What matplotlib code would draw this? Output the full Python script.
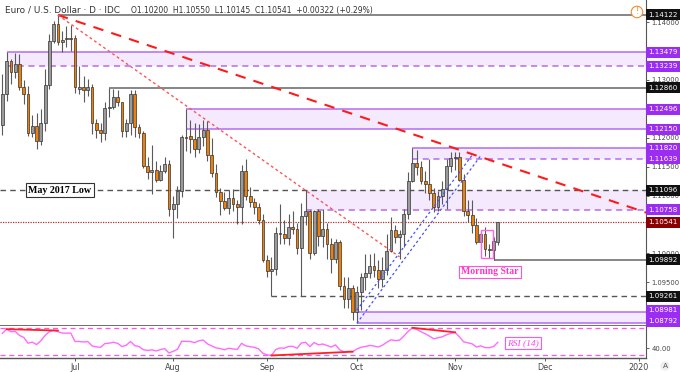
import numpy as np
import pandas as pd
import matplotlib
matplotlib.use("Agg")
import matplotlib.pyplot as plt
from matplotlib.patches import Rectangle
import matplotlib.transforms as mtrans

# ---------------- data ----------------
start_date = "2019-06-06"
end_axis_date = "2020-01-03"
opens = [1.1222, 1.1276, 1.1332, 1.1313, 1.1327, 1.1288, 1.1275, 1.1209, 1.1221, 1.1194,
         1.1226, 1.1292, 1.1368, 1.1397, 1.1366, 1.1373, 1.1370, 1.1373, 1.1285, 1.1287,
         1.1283, 1.1287, 1.1226, 1.1214, 1.1208, 1.1251, 1.1254, 1.1271, 1.1261, 1.1211,
         1.1225, 1.1276, 1.1219, 1.1208, 1.1151, 1.1140, 1.1145, 1.1127, 1.1143, 1.1154,
         1.1077, 1.1086, 1.1108, 1.1202, 1.1203, 1.1197, 1.1180, 1.1202, 1.1214, 1.1171,
         1.1139, 1.1106, 1.1091, 1.1078, 1.1096, 1.1086, 1.1080, 1.1143, 1.1100, 1.1089,
         1.1080, 1.1058, 1.0989, 1.0970, 1.0973, 1.1035, 1.1034, 1.1027, 1.1045, 1.1043,
         1.1010, 1.1065, 1.1073, 1.1000, 1.1073, 1.1031, 1.1042, 1.1017, 1.0991, 1.1020,
         1.0943, 1.0921, 1.0940, 1.0899, 1.0934, 1.0960, 1.0966, 1.0978, 1.0971, 1.0955,
         1.0971, 1.1005, 1.1040, 1.1029, 1.1033, 1.1068, 1.1125, 1.1157, 1.1150, 1.1126,
         1.1120, 1.1105, 1.1081, 1.1099, 1.1111, 1.1152, 1.1165, 1.1167, 1.1127, 1.1074,
         1.1066, 1.1050, 1.1019, 1.1034, 1.1008, 1.1006, 1.1020]
highs = [1.1310, 1.1348, 1.1336, 1.1347, 1.1345, 1.1300, 1.1290, 1.1240, 1.1242, 1.1250,
         1.1318, 1.1380, 1.1402, 1.14122, 1.1385, 1.1393, 1.1395, 1.1378, 1.1324, 1.1307,
         1.1302, 1.1293, 1.1232, 1.1226, 1.1262, 1.1286, 1.1285, 1.1282, 1.1262, 1.1233,
         1.1282, 1.1283, 1.1223, 1.1212, 1.1166, 1.1188, 1.1159, 1.1153, 1.1167, 1.1162,
         1.1099, 1.1116, 1.1204, 1.12496, 1.1230, 1.1226, 1.1224, 1.1230, 1.1229, 1.1200,
         1.1154, 1.1113, 1.1106, 1.1109, 1.1112, 1.1093, 1.1153, 1.1164, 1.1115, 1.1095,
         1.1087, 1.1068, 1.0998, 1.0994, 1.1045, 1.1085, 1.1057, 1.1068, 1.1073, 1.1053,
         1.1087, 1.11096, 1.1075, 1.1075, 1.1076, 1.1076, 1.1053, 1.1026, 1.1025, 1.1024,
         1.0960, 1.0959, 1.0946, 1.0943, 1.0966, 1.0999, 1.0999, 1.1000, 1.0988, 1.0994,
         1.1033, 1.1063, 1.1050, 1.1040, 1.1077, 1.1140, 1.1182, 1.1179, 1.1159, 1.1143,
         1.1163, 1.1113, 1.1108, 1.1125, 1.1164, 1.1175, 1.1176, 1.1176, 1.1138, 1.1093,
         1.1092, 1.1062, 1.1037, 1.1045, 1.1017, 1.1029, 1.1055]
lows = [1.1205, 1.1264, 1.1293, 1.1304, 1.1282, 1.1259, 1.1203, 1.1201, 1.1181, 1.1187,
        1.1212, 1.1284, 1.1364, 1.1360, 1.1349, 1.1356, 1.1350, 1.1277, 1.1276, 1.1262,
        1.1272, 1.1207, 1.1200, 1.1193, 1.1196, 1.1236, 1.1250, 1.1255, 1.1201, 1.1201,
        1.1205, 1.1201, 1.1199, 1.1148, 1.1128, 1.1102, 1.1124, 1.1125, 1.1139, 1.1065,
        1.1027, 1.1061, 1.1098, 1.1177, 1.1174, 1.1167, 1.1174, 1.1185, 1.1159, 1.1133,
        1.1098, 1.1066, 1.1075, 1.1068, 1.1073, 1.1051, 1.1051, 1.1092, 1.1080, 1.1068,
        1.1051, 1.0985, 1.0960, 1.0926, 1.0963, 1.1016, 1.1016, 1.1014, 1.1033, 1.0999,
        1.0927, 1.1050, 1.0990, 1.0998, 1.1013, 1.1012, 1.0991, 1.0966, 1.0983, 1.0936,
        1.0905, 1.0905, 1.0885, 1.08792, 1.0903, 1.0937, 1.0958, 1.0960, 1.0940, 1.0942,
        1.0963, 1.1002, 1.1018, 1.0991, 1.1011, 1.1059, 1.1123, 1.1136, 1.1120, 1.1105,
        1.1093, 1.1072, 1.1073, 1.1085, 1.1076, 1.1141, 1.1144, 1.1125, 1.1064, 1.1055,
        1.1036, 1.1016, 1.1011, 1.0996, 1.0993, 1.09892, 1.10145]
closes = [1.1276, 1.1332, 1.1313, 1.1327, 1.1288, 1.1275, 1.1209, 1.1221, 1.1194, 1.1226,
          1.1292, 1.1368, 1.1397, 1.1366, 1.1369, 1.1370, 1.1373, 1.1287, 1.1287, 1.1283,
          1.1287, 1.1226, 1.1214, 1.1208, 1.1251, 1.1254, 1.1271, 1.1261, 1.1211, 1.1225,
          1.1276, 1.1219, 1.1208, 1.1151, 1.1140, 1.1145, 1.1127, 1.1143, 1.1154, 1.1077,
          1.1086, 1.1108, 1.1202, 1.1199, 1.1197, 1.1180, 1.1202, 1.1214, 1.1171, 1.1139,
          1.1106, 1.1091, 1.1078, 1.1096, 1.1086, 1.1080, 1.1143, 1.1100, 1.1089, 1.1080,
          1.1058, 1.0989, 1.0970, 1.0973, 1.1035, 1.1034, 1.1027, 1.1045, 1.1043, 1.1010,
          1.1065, 1.1073, 1.1000, 1.1073, 1.1031, 1.1042, 1.1017, 1.0991, 1.1020, 1.0943,
          1.0921, 1.0940, 1.0899, 1.0934, 1.0960, 1.0966, 1.0978, 1.0971, 1.0955, 1.0971,
          1.1005, 1.1040, 1.1029, 1.1033, 1.1068, 1.1125, 1.1157, 1.1150, 1.1126, 1.1120,
          1.1105, 1.1081, 1.1099, 1.1111, 1.1152, 1.1165, 1.1167, 1.1127, 1.1074, 1.1066,
          1.1050, 1.1019, 1.1034, 1.1008, 1.1006, 1.1021, 1.10541]
rsi_values = [62.0, 68.3, 64.5, 65.0, 59.0, 56.0, 47.5, 49.0, 45.5, 51.0,
              59.0, 64.5, 66.6, 64.5, 62.5, 62.3, 62.5, 50.0, 50.0, 49.3,
              49.8, 43.5, 42.0, 41.4, 47.0, 47.5, 48.8, 47.3, 42.5, 44.5,
              50.0, 43.8, 42.6, 37.8, 36.8, 37.6, 36.0, 38.0, 39.5, 33.0,
              35.5, 38.5, 50.5, 50.2, 50.0, 48.3, 51.0, 52.2, 46.5, 43.5,
              40.5, 39.5, 37.8, 40.0, 39.0, 38.3, 47.3, 43.5, 42.3, 41.3,
              39.0, 32.5, 30.2, 29.5, 38.0, 40.5, 40.0, 42.6, 42.8, 40.0,
              47.8, 48.8, 42.3, 48.5, 45.0, 46.3, 44.0, 41.8, 45.0, 37.6,
              34.6, 35.5, 34.9, 38.9, 41.5, 42.6, 44.2, 43.3, 41.8, 44.5,
              48.8, 52.5, 51.3, 52.0, 58.0, 65.0, 70.0, 68.0, 64.5, 61.5,
              58.0, 54.0, 55.5, 57.0, 60.0, 62.0, 63.5, 57.0, 49.5, 48.0,
              46.5, 41.8, 43.5, 41.0, 40.8, 42.5, 48.8]

# horizontal levels (price, start date or None = full width)
gray_solid_levels = [1.14122, 1.12860, 1.09892]
gray_solid_starts = ["2019-06-25", "2019-07-11", "2019-11-14"]
gray_dashed_levels = [1.11096, 1.09261]
gray_dashed_starts = [None, "2019-09-03"]
close_level = 1.10541
# purple zones
zone_tops = [1.13479, 1.12496, 1.11820, 1.11096, 1.08981]
zone_bottoms = [1.13239, 1.12150, 1.11639, 1.10758, 1.08792]
zone_starts = ["2019-06-07", "2019-08-06", "2019-10-18", "2019-09-13", "2019-10-01"]
zone_top_dashed = [False, False, False, None, False]
zone_bottom_dashed = [True, False, True, True, False]

# trend lines (date, price)
trend_major_dates = ["2019-06-25", "2020-01-03"]
trend_major_prices = [1.14122, 1.1070]
trend_minor_dates = ["2019-06-25", "2019-10-15"]
trend_minor_prices = [1.14122, 1.0994]
channel_a_dates = ["2019-10-01", "2019-11-07"]
channel_a_prices = [1.0902, 1.1170]
channel_b_dates = ["2019-10-01", "2019-11-11"]
channel_b_prices = [1.08792, 1.1169]

rsi_div1_dates = ["2019-06-07", "2019-06-25"]
rsi_div1_vals = [68.3, 66.2]
rsi_div2_dates = ["2019-09-03", "2019-09-30"]
rsi_div2_vals = [29.3, 34.9]
rsi_div3_dates = ["2019-10-18", "2019-11-01"]
rsi_div3_vals = [70.3, 63.6]

month_labels = ["Jul", "Aug", "Sep", "Oct", "Nov", "Dec", "2020"]
month_dates = ["2019-07-01", "2019-08-01", "2019-09-02", "2019-10-01", "2019-11-01", "2019-12-02", "2020-01-01"]

label_prices = [1.14122, 1.13479, 1.13239, 1.12860, 1.12496, 1.12150, 1.11820, 1.11639,
                1.11096, 1.10758, 1.10541, 1.09892, 1.09261, 1.08981, 1.08792]
label_kind = ["k", "p", "p", "k", "p", "p", "p", "p", "k", "p", "r", "k", "k", "p", "p"]

# ---------------- figure ----------------
W, H = 680, 372
fig = plt.figure(figsize=(W / 100, H / 100), dpi=100)
fig.patch.set_facecolor("white")

def fy(py):
    return 1 - py / H

AX_R = 646
ax = fig.add_axes([0, fy(326), AX_R / W, 326 / H])
ax2 = fig.add_axes([0, fy(358), AX_R / W, 32 / H])

dates_all = pd.bdate_range(start_date, end_axis_date)
def kx(d):
    return dates_all.get_loc(pd.Timestamp(d))

n = len(closes)
xs = np.arange(n)
o = np.array(opens); h = np.array(highs); l = np.array(lows); c = np.array(closes)

xmin, xmax = -0.56, 150.7
for a in (ax, ax2):
    a.set_xlim(xmin, xmax)
    a.set_facecolor("white")
ax.set_ylim(1.08746, 1.14381)
ax2.set_ylim(25.56, 72.96)

PURPLE_LINE = "#b46cf2"
ZONE_FILL = "#f4e9fd"

for top, bot, st, td, bd in zip(zone_tops, zone_bottoms, zone_starts, zone_top_dashed, zone_bottom_dashed):
    x0 = kx(st)
    ax.add_patch(Rectangle((x0, bot), xmax - x0, top - bot, facecolor=ZONE_FILL, edgecolor="none", zorder=1))
    if td is not None:
        ax.hlines(top, x0, xmax, colors=PURPLE_LINE, lw=1.1, linestyles=(0, (4, 3)) if td else "solid", zorder=2)
    ax.hlines(bot, x0, xmax, colors=PURPLE_LINE, lw=1.1, linestyles=(0, (4, 3)) if bd else "solid", zorder=2)

for p, st in zip(gray_solid_levels, gray_solid_starts):
    ax.hlines(p, kx(st), xmax, colors="#666666", lw=1.1, zorder=2)
for p, st in zip(gray_dashed_levels, gray_dashed_starts):
    x0 = xmin if st is None else kx(st)
    ax.hlines(p, x0, xmax, colors="#555555", lw=1.0, linestyles=(0, (4, 3)), zorder=2)
ax.hlines(close_level, xmin, xmax, colors="#b03030", lw=0.9, linestyles=(0, (1, 1)), zorder=2)

# candles
up = c >= o
ax.vlines(xs, l, h, colors="#5a5a5a", lw=0.8, zorder=3)
body_bot = np.minimum(o, c)
body_h = np.maximum(np.abs(c - o), 0.00006)
ax.bar(xs[up], body_h[up], bottom=body_bot[up], width=0.66, color="#9a9a9a",
       edgecolor="#333333", linewidth=0.5, zorder=4)
ax.bar(xs[~up], body_h[~up], bottom=body_bot[~up], width=0.66, color="#f07f0a",
       edgecolor="#333333", linewidth=0.5, zorder=4)

# trend lines
ax.plot([kx(d) for d in trend_major_dates], trend_major_prices, color="#ff1a1a", lw=1.5,
        linestyle=(0, (5, 4)), zorder=5)
ax.plot([kx(d) for d in trend_minor_dates], trend_minor_prices, color="#ff5555", lw=1.0,
        linestyle=(0, (2, 2)), zorder=5)
ax.plot([kx(d) for d in channel_a_dates], channel_a_prices, color="#4455ff", lw=0.9,
        linestyle=(0, (2, 2)), zorder=5)
ax.plot([kx(d) for d in channel_b_dates], channel_b_prices, color="#4455ff", lw=0.9,
        linestyle=(0, (2, 2)), zorder=5)

# morning star box
ms_x0 = kx("2019-11-11") - 0.05
ms_x1 = kx("2019-11-14") - 0.2
ax.add_patch(Rectangle((ms_x0, 1.0993), ms_x1 - ms_x0, 1.1041 - 1.0993, facecolor="none",
                       edgecolor="#ff66dd", lw=1.0, zorder=6))

trans_ax_data = mtrans.blended_transform_factory(ax.transAxes, ax.transData)
ax.text(60 / AX_R, 1.11096, "May 2017 Low", transform=trans_ax_data, ha="center", va="center",
        fontsize=7.2, fontweight="bold", family="Liberation Serif", color="black", zorder=7,
        bbox=dict(boxstyle="square,pad=0.22", fc="white", ec="#333333", lw=0.8))
ax.text(490 / AX_R, 1.0968, "Morning Star", transform=trans_ax_data, ha="center", va="center",
        fontsize=7.0, fontweight="bold", family="Liberation Serif", color="#ff33cc", zorder=7,
        bbox=dict(boxstyle="square,pad=0.2", fc="white", ec="#ff55dd", lw=0.8))

# level label placement (pixel rows from top), pushed apart like the price scale does
BOX_H = 11.0
label_px = [H - ax.transData.transform((0, p))[1] for p in label_prices]
order = np.argsort(label_px)[::-1]
limit = 321.0
placed = [0.0] * len(label_prices)
for i in order:
    yv = min(label_px[i], limit)
    placed[i] = yv
    limit = yv - (BOX_H - 0.5)

# right axis price ticks; labels fully covered by a level box are left blank
ax.yaxis.tick_right()
ticks = np.round(np.arange(1.090, 1.1401, 0.005), 3)
ax.set_yticks(ticks)
tick_labels = []
for t in ticks:
    ty = H - ax.transData.transform((0, t))[1]
    covered = any(abs(ty - yv) < 4.0 for yv in placed)
    tick_labels.append("" if covered else f"{t:.5f}")
ax.set_yticklabels(tick_labels)
ax.tick_params(axis="y", labelsize=4.9, colors="#444444", length=2.5, width=0.6, pad=1.5)
ax.tick_params(axis="x", bottom=False, labelbottom=False)
for s in ("left", "top"):
    ax.spines[s].set_visible(False)
ax.spines["right"].set_color("#555555"); ax.spines["right"].set_linewidth(0.8)
ax.spines["bottom"].set_color("#555555"); ax.spines["bottom"].set_linewidth(1.2)

# RSI panel
ax2.plot(xs, rsi_values, color="#ff6bff", lw=1.0, zorder=3)
ax2.axhline(70, color="#ff55ee", lw=0.9, linestyle=(0, (4, 3)), zorder=2)
ax2.axhline(30, color="#ff55ee", lw=0.9, linestyle=(0, (4, 3)), zorder=2)
for dd, vv in ((rsi_div1_dates, rsi_div1_vals), (rsi_div2_dates, rsi_div2_vals), (rsi_div3_dates, rsi_div3_vals)):
    ax2.plot([kx(d) for d in dd], vv, color="#ff2020", lw=1.3, zorder=4)
trans2 = mtrans.blended_transform_factory(ax2.transAxes, ax2.transData)
ax2.text(523 / AX_R, 47.8, "RSI (14)", transform=trans2, ha="center", va="center",
         fontsize=6.8, style="italic", family="Liberation Serif", color="#ff44ee",
         bbox=dict(boxstyle="square,pad=0.2", fc="white", ec="#ff55ee", lw=0.8), zorder=6)
ax2.yaxis.tick_right()
ax2.set_yticks([40])
ax2.set_yticklabels(["40.00"])
ax2.tick_params(axis="y", labelsize=4.9, colors="#444444", length=2.5, width=0.6, pad=1.5)
ax2.set_xticks([kx(d) for d in month_dates])
ax2.set_xticklabels(month_labels)
ax2.tick_params(axis="x", labelsize=5.8, colors="#444444", length=2.5, width=0.6, pad=1.2)
ax2.spines["left"].set_visible(False)
ax2.spines["top"].set_visible(False)
ax2.spines["right"].set_color("#555555"); ax2.spines["right"].set_linewidth(0.8)
ax2.spines["bottom"].set_color("#555555"); ax2.spines["bottom"].set_linewidth(1.0)

# level label boxes
kind_color = {"k": "#111111", "p": "#9b2cf2", "r": "#8b0000"}
for p, kd, yv in zip(label_prices, label_kind, placed):
    fig.patches.append(Rectangle((AX_R / W, fy(yv + BOX_H / 2)), (W - AX_R) / W, BOX_H / H,
                                 transform=fig.transFigure, facecolor=kind_color[kd],
                                 edgecolor="none", zorder=5))
    fig.text(648.5 / W, fy(yv), f"{p:.5f}", fontsize=5.1, color="white", ha="left", va="center",
             zorder=6)

# header
fig.text(5 / W, fy(10), "Euro / U.S. Dollar · D · IDC", fontsize=6.4, color="#333333",
         va="center", ha="left")
fig.text(131 / W, fy(10), "O1.10200  H1.10550  L1.10145  C1.10541  +0.00322 (+0.29%)",
         fontsize=5.5, color="#333333", va="center", ha="left")
fig.text(637 / W, fy(12), "!", fontsize=6, color="#f08a30", ha="center", va="center",
         bbox=dict(boxstyle="circle,pad=0.15", fc="white", ec="#f08a30", lw=0.8))
fig.text(665 / W, fy(366), "A", fontsize=5.3, color="#555555", ha="center", va="center",
         bbox=dict(boxstyle="circle,pad=0.22", fc="#eeeeee", ec="none"))

fig.savefig("out.png", dpi=100, facecolor="white")
